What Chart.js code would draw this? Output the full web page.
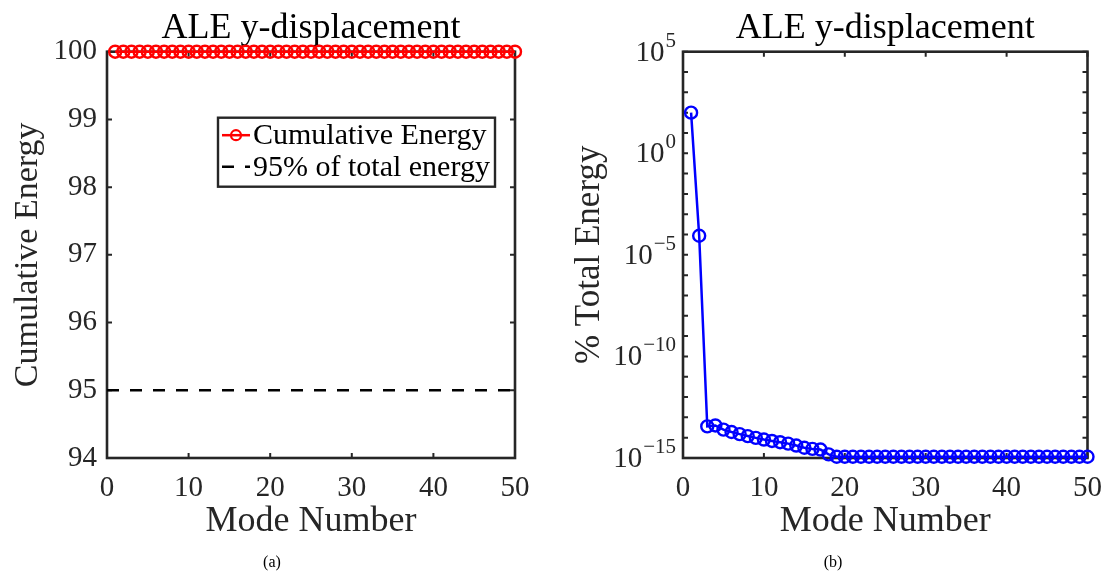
<!DOCTYPE html>
<html>
<head>
<meta charset="utf-8">
<script src="https://cdn.jsdelivr.net/npm/chart.js@4.4.1/dist/chart.umd.min.js"></script>
<style>
  html, body { margin: 0; padding: 0; background: #ffffff; }
  #wrap { position: relative; width: 1115px; height: 576px; overflow: hidden; background: #fff; }
  canvas { position: absolute; top: 0; }
  #c1 { left: 0; }
  #c2 { left: 557px; }
</style>
</head>
<body>
<div id="wrap">
  <canvas id="c1" width="557" height="576"></canvas>
  <canvas id="c2" width="558" height="576"></canvas>
</div>
<script>
// ---------------- data ----------------
const chartTitle = 'ALE y-displacement';
const xAxisTitle = 'Mode Number';
const leftYAxisTitle = 'Cumulative Energy';
const rightYAxisTitle = '% Total Energy';
const captionLeft = '(a)';
const captionRight = '(b)';

const modes = [1,2,3,4,5,6,7,8,9,10,11,12,13,14,15,16,17,18,19,20,
               21,22,23,24,25,26,27,28,29,30,31,32,33,34,35,36,37,38,39,40,
               41,42,43,44,45,46,47,48,49,50];

const cumulativeEnergy = [100,100,100,100,100,100,100,100,100,100,
                          100,100,100,100,100,100,100,100,100,100,
                          100,100,100,100,100,100,100,100,100,100,
                          100,100,100,100,100,100,100,100,100,100,
                          100,100,100,100,100,100,100,100,100,100];

const cumulativeLabel = 'Cumulative Energy';
const thresholdLabel = '95% of total energy';
const thresholdValue = 95;
const thresholdModes = [0, 50];

const percentTotalEnergy = [99.99, 8.7e-5, 3.6e-14, 4.0e-14, 2.5e-14, 1.9e-14, 1.5e-14, 1.2e-14, 9.8e-15, 8.1e-15,
                            6.9e-15, 6.0e-15, 5.1e-15, 4.1e-15, 3.2e-15, 2.8e-15, 2.6e-15, 1.5e-15, 1.15e-15, 1.15e-15,
                            1.15e-15, 1.15e-15, 1.15e-15, 1.15e-15, 1.15e-15, 1.15e-15, 1.15e-15, 1.15e-15, 1.15e-15, 1.15e-15,
                            1.15e-15, 1.15e-15, 1.15e-15, 1.15e-15, 1.15e-15, 1.15e-15, 1.15e-15, 1.15e-15, 1.15e-15, 1.15e-15,
                            1.15e-15, 1.15e-15, 1.15e-15, 1.15e-15, 1.15e-15, 1.15e-15, 1.15e-15, 1.15e-15, 1.15e-15, 1.15e-15];

const xTicks = [0, 10, 20, 30, 40, 50];
const cumulativeTicks = [94, 95, 96, 97, 98, 99, 100];
const logExponents = [-15,-14,-13,-12,-11,-10,-9,-8,-7,-6,-5,-4,-3,-2,-1,0,1,2,3,4,5];
const logLabelExponents = [5, 0, -5, -10, -15];
const logLabelBase = '10';
const logLabelSuperscripts = ['5', '0', '\u22125', '\u221210', '\u221215'];

// ---------------- style ----------------
const FONT = '"Liberation Serif", "Times New Roman", serif';
const AXIS = '#262626';
const RED = '#ff0000';
const BLUE = '#0000ff';

// box + inward ticks (MATLAB style), title centred on the plot box
const boxPlugin = {
  id: 'matlabBox',
  afterLayout(chart) {
    const a = chart.chartArea;
    const t = chart.titleBlock;
    if (t) { t.left = a.left; t.right = a.right; t.width = a.right - a.left; }
    const cap = chart.canvas.id === 'c1' ? captionLeft : captionRight;
    const capRight = chart.canvas.id === 'c1' ? 544 : 552;
    chart.boxes.forEach(b => {
      if (b !== t && b.options && b.options.text === cap) { b.left = 0; b.right = capRight; b.width = capRight; }
    });
  },
  beforeDatasetsDraw(chart) {
    const { ctx, chartArea: a, scales } = chart;
    const tl = 5;
    ctx.save();
    ctx.strokeStyle = AXIS;
    ctx.lineWidth = 2;
    ctx.beginPath();
    scales.x.ticks.forEach(t => {
      const px = scales.x.getPixelForValue(t.value);
      ctx.moveTo(px, a.bottom); ctx.lineTo(px, a.bottom - tl);
      ctx.moveTo(px, a.top); ctx.lineTo(px, a.top + tl);
    });
    scales.y.ticks.forEach(t => {
      const py = scales.y.getPixelForValue(t.value);
      ctx.moveTo(a.left, py); ctx.lineTo(a.left + tl, py);
      ctx.moveTo(a.right, py); ctx.lineTo(a.right - tl, py);
    });
    ctx.stroke();
    ctx.lineWidth = 2.6;
    ctx.strokeRect(a.left, a.top, a.right - a.left, a.bottom - a.top);
    ctx.restore();
  }
};

// legend drawn inside the left plot
const legendPlugin = {
  id: 'innerLegend',
  afterDatasetsDraw(chart) {
    const { ctx, chartArea: a } = chart;
    const ds = chart.data.datasets;
    const x0 = a.left + 111, y0 = a.top + 66, w = 277, h = 69;
    ctx.save();
    ctx.fillStyle = '#ffffff';
    ctx.fillRect(x0, y0, w, h);
    ctx.strokeStyle = AXIS;
    ctx.lineWidth = 2.4;
    ctx.strokeRect(x0, y0, w, h);
    const rows = [y0 + 17.5, y0 + 49];
    ds.forEach((d, i) => {
      const y = rows[i];
      ctx.strokeStyle = d.borderColor;
      ctx.lineWidth = d.borderWidth;
      ctx.setLineDash(d.borderDash || []);
      ctx.beginPath();
      ctx.moveTo(x0 + 4, y); ctx.lineTo(x0 + 32, y);
      ctx.stroke();
      ctx.setLineDash([]);
      if (d.pointRadius > 0) {
        ctx.beginPath();
        ctx.arc(x0 + 18, y, 5, 0, Math.PI * 2);
        ctx.lineWidth = 2.2;
        ctx.stroke();
      }
      ctx.fillStyle = '#000';
      ctx.font = '30px ' + FONT;
      ctx.textBaseline = 'middle';
      ctx.textAlign = 'left';
      ctx.fillText(d.label, x0 + 35, y + 1);
    });
    ctx.restore();
  }
};

// power-of-ten tick labels with real superscripts on the log axis
const logLabelPlugin = {
  id: 'logLabels',
  afterDraw(chart) {
    const { ctx, chartArea: a } = chart;
    const s = chart.scales.y;
    ctx.save();
    ctx.fillStyle = AXIS;
    ctx.textBaseline = 'alphabetic';
    ctx.textAlign = 'right';
    const xr = a.left - 7;
    logLabelExponents.forEach((e, i) => {
      const y = s.getPixelForValue(Math.pow(10, e));
      const sup = logLabelSuperscripts[i];
      ctx.font = '21px ' + FONT;
      const ew = ctx.measureText(sup).width;
      ctx.fillText(sup, xr, y - 5);
      ctx.font = '29px ' + FONT;
      ctx.fillText(logLabelBase, xr - ew - 1, y + 9);
    });
    ctx.restore();
  }
};

function baseOptions(yWidth, padRight, caption, yTitlePad, yTitleSize) {
  return {
    responsive: false,
    devicePixelRatio: 1,
    animation: false,
    events: [],
    layout: { padding: { left: 0, right: padRight, top: 0, bottom: 0 } },
    plugins: {
      legend: { display: false },
      tooltip: { enabled: false },
      title: {
        display: true, text: chartTitle, color: '#000',
        font: { family: FONT, size: 36, weight: 'normal' },
        padding: { top: 7, bottom: 1.5 }
      },
      subtitle: {
        display: true, text: caption, position: 'bottom', color: '#000',
        font: { family: FONT, size: 16, weight: 'normal' },
        padding: { top: 0, bottom: 4 }
      }
    },
    scales: {
      x: {
        type: 'linear', min: 0, max: 50,
        afterBuildTicks: s => { s.ticks = xTicks.map(v => ({ value: v })); },
        afterFit: s => { s.height = 94.8; },
        grid: { display: false, drawTicks: false },
        border: { display: false },
        ticks: { color: AXIS, font: { family: FONT, size: 29 }, padding: 13, maxRotation: 0, autoSkip: false },
        title: { display: true, text: xAxisTitle, color: AXIS, font: { family: FONT, size: 36 }, padding: { top: 0, bottom: 10 } }
      },
      y: {
        afterFit: s => { s.width = yWidth; },
        grid: { display: false, drawTicks: false },
        border: { display: false },
        ticks: { color: AXIS, font: { family: FONT, size: 29 }, padding: 10, autoSkip: false },
        title: { display: true, color: AXIS, font: { family: FONT, size: yTitleSize }, padding: { top: yTitlePad, bottom: 0 } }
      }
    }
  };
}

// ---------------- left chart ----------------
const opt1 = baseOptions(107, 42, captionLeft, 8, 34);
opt1.scales.y.min = 94;
opt1.scales.y.max = 100;
opt1.scales.y.afterBuildTicks = s => { s.ticks = cumulativeTicks.map(v => ({ value: v })); };
opt1.scales.y.title.text = leftYAxisTitle;

new Chart(document.getElementById('c1'), {
  type: 'line',
  data: {
    datasets: [
      {
        label: cumulativeLabel,
        data: modes.map((m, i) => ({ x: m, y: cumulativeEnergy[i] })),
        borderColor: RED, borderWidth: 2.5,
        pointRadius: 6, pointBorderWidth: 2.4, pointBorderColor: RED,
        pointBackgroundColor: 'rgba(0,0,0,0)', clip: false
      },
      {
        label: thresholdLabel,
        data: thresholdModes.map(m => ({ x: m, y: thresholdValue })),
        borderColor: '#000', borderWidth: 2.5, borderDash: [12, 11],
        pointRadius: 0
      }
    ]
  },
  options: opt1,
  plugins: [boxPlugin, legendPlugin]
});

// ---------------- right chart ----------------
const opt2 = baseOptions(126, 23, captionRight, 12, 35);
opt2.scales.y.type = 'logarithmic';
opt2.scales.y.min = 1e-15;
opt2.scales.y.max = 1e5;
opt2.scales.y.afterBuildTicks = s => { s.ticks = logExponents.map(e => ({ value: Math.pow(10, e) })); };
opt2.scales.y.ticks.display = false;
opt2.scales.y.title.text = rightYAxisTitle;

new Chart(document.getElementById('c2'), {
  type: 'line',
  data: {
    datasets: [
      {
        label: rightYAxisTitle,
        data: modes.map((m, i) => ({ x: m, y: percentTotalEnergy[i] })),
        borderColor: BLUE, borderWidth: 2.5,
        pointRadius: 6, pointBorderWidth: 2.4, pointBorderColor: BLUE,
        pointBackgroundColor: 'rgba(0,0,0,0)', clip: false
      }
    ]
  },
  options: opt2,
  plugins: [boxPlugin, logLabelPlugin]
});
</script>
</body>
</html>
